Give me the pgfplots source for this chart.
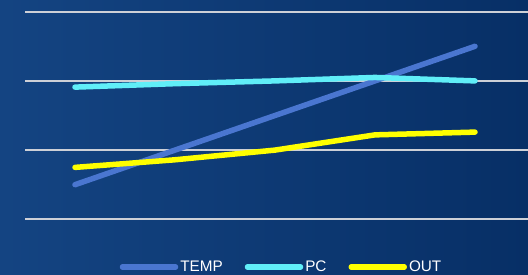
\documentclass[border=0pt]{standalone}
\usepackage{pgfplots}
\pgfplotsset{compat=1.18}
\usepackage{fontspec}
\setmainfont{Liberation Sans}
\definecolor{bgL}{RGB}{20,68,130}
\definecolor{bgR}{RGB}{7,47,102}
\definecolor{tempc}{RGB}{74,118,208}
\definecolor{pcc}{RGB}{96,238,248}
\definecolor{outc}{RGB}{255,255,0}
\definecolor{gridc}{RGB}{205,208,215}
\begin{document}
\begin{tikzpicture}
\path[use as bounding box] (0,0) rectangle (528pt,275pt);
\shade[left color=bgL, right color=bgR] (0,0) rectangle (528pt,275pt);
\begin{axis}[
  at={(25pt,55.7pt)}, anchor=south west,
  scale only axis, width=503pt, height=207.6pt,
  xmin=-0.5, xmax=4.53, ymin=0, ymax=3,
  xtick=\empty, ytick={0,1,2,3}, yticklabels={},
  major tick length=0pt,
  axis line style={draw=none},
  ymajorgrids, grid style={gridc, line width=2pt},
  clip=false,
  legend columns=3,
  legend image code/.code={\draw[#1] (0pt,0pt) -- (53pt,0pt);},
  legend style={at={(0.51,-0.23)}, anchor=center, draw=none, fill=none,
    text=white, font=\fontsize{15.3}{18}\selectfont,
    /tikz/every even column/.append style={column sep=20pt},
    inner sep=0pt, nodes={inner sep=2pt}},
  every axis plot/.append style={line width=5.5pt, line cap=round, line join=round, no markers},
]
\addplot[tempc] coordinates {(0,0.5) (1,1.0) (2,1.5) (3,2.0) (4,2.5)};
\addlegendentry{TEMP}
\addplot[pcc] coordinates {(0,1.91) (1,1.96) (2,2.0) (3,2.05) (4,2.0)};
\addlegendentry{PC}
\addplot[outc] coordinates {(0,0.75) (1,0.86) (2,1.0) (3,1.22) (4,1.26)};
\addlegendentry{OUT}
\end{axis}
\end{tikzpicture}
\end{document}
